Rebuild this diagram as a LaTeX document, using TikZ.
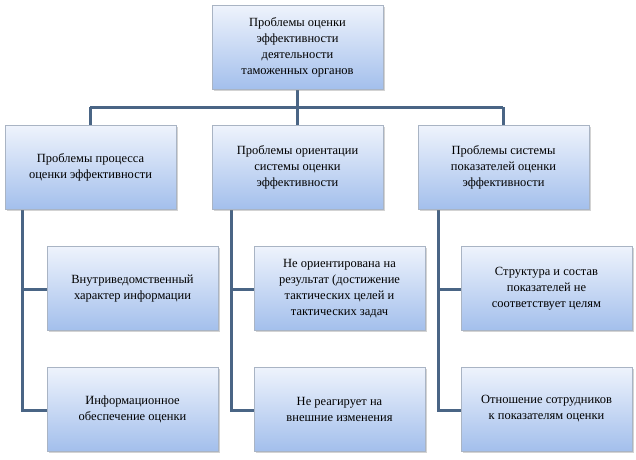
\documentclass[tikz,border=0pt]{standalone}
\usepackage{fontspec}
\setmainfont{Liberation Serif}
\usetikzlibrary{shadows}
\definecolor{lnc}{HTML}{4A6585}
\definecolor{btop}{HTML}{EEF3FC}
\definecolor{bbot}{HTML}{A3BFEC}
\definecolor{bdr}{HTML}{A9B4C4}
\tikzset{
 box/.style={draw=bdr,line width=0.8pt,top color=btop,bottom color=bbot,
  minimum width=171pt,minimum height=84pt,align=center,font=\fontsize{12.5}{16}\selectfont,
  drop shadow={shadow xshift=1.5pt,shadow yshift=-1.5pt,opacity=0.35}},
 conn/.style={draw=lnc,line width=3pt}
}
\begin{document}
\begin{tikzpicture}[x=1pt,y=-1pt]
\useasboundingbox (0,0) rectangle (636,459);
\draw[conn] (297,47) -- (297,107) coordinate (hm);
\draw[conn] (90,107) -- (503,107);
\draw[conn] (90,107) -- (90,167);
\draw[conn] (297,107) -- (297,167);
\draw[conn] (503,107) -- (503,167);
\foreach \x in {22,231,438}{
 \draw[conn] (\x,167) -- (\x,410) -- (\x+40,410);
 \draw[conn] (\x,289) -- (\x+40,289);
}
\node[box] (t) at (297.5,47.5) {Проблемы оценки\\эффективности\\деятельности\\таможенных органов};
\node[box] (a) at (90.5,167.5) {Проблемы процесса\\оценки эффективности};
\node[box] (b) at (297.5,167.5) {Проблемы ориентации\\системы оценки\\эффективности};
\node[box] (c) at (503.5,167.5) {Проблемы системы\\показателей оценки\\эффективности};
\node[box] (a1) at (132.5,288.5) {Внутриведомственный\\характер информации};
\node[box] (a2) at (132.5,409) {Информационное\\обеспечение оценки};
\node[box] (b1) at (339.5,288.5) {Не ориентирована на\\результат (достижение\\тактических целей и\\тактических задач};
\node[box] (b2) at (339.5,409) {Не реагирует на\\внешние изменения};
\node[box] (c1) at (546.5,288.5) {Структура и состав\\показателей не\\соответствует целям};
\node[box] (c2) at (546.5,409) {Отношение сотрудников\\к показателям оценки};
\end{tikzpicture}
\end{document}
